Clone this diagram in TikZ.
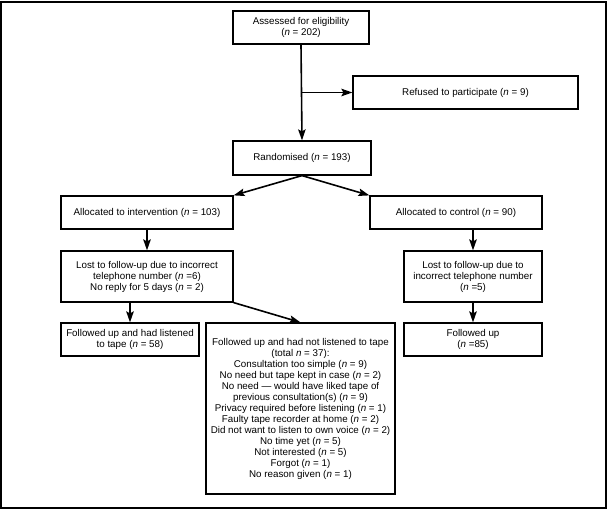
\documentclass[tikz,border=0pt]{standalone}
\usepackage{fontspec}
\setmainfont{Liberation Sans}
\usetikzlibrary{arrows.meta}

\begin{document}
\begin{tikzpicture}[x=1pt,y=-1pt]
\tikzstyle{every node}+=[inner sep=0pt, font=\fontsize{9.8}{11}\selectfont]
\tikzstyle{flowbox}=[draw=black, line width=1.2pt, align=center]
\tikzstyle{arr}=[-{Stealth[length=11pt,width=7.5pt,inset=2pt]}, line width=1.6pt]
\useasboundingbox (0,0) rectangle (608,510);
\draw [black, line width=2pt] (1,2) rectangle (606,508);
\node [flowbox, minimum width=136pt, minimum height=33pt] (assess) at (301,27.5) {Assessed for eligibility\\(\textit{n} = 202)};
\node [flowbox, minimum width=225pt, minimum height=33pt] (refused) at (465.5,92.5) {Refused to participate (\textit{n} = 9)};
\node [flowbox, minimum width=138pt, minimum height=34pt] (random) at (302,158) {Randomised (\textit{n} = 193)};
\node [flowbox, minimum width=172pt, minimum height=33pt] (alloci) at (147,212.5) {Allocated to intervention (\textit{n} = 103)};
\node [flowbox, minimum width=172pt, minimum height=33pt] (allocc) at (456,212.5) {Allocated to control (\textit{n} = 90)};
\node [flowbox, minimum width=172pt, minimum height=51pt] (losti) at (147,276.5) {Lost to follow-up due to incorrect\\telephone number (\textit{n} =6)\\No reply for 5 days (\textit{n} = 2)};
\node [flowbox, minimum width=138pt, minimum height=51pt] (lostc) at (473,276.5) {Lost to follow-up due to\\incorrect telephone number\\(\textit{n} =5)};
\node [flowbox, minimum width=138pt, minimum height=33pt] (listened) at (130,339.5) {Followed up and had listened\\to tape (\textit{n} = 58)};
\node [flowbox, minimum width=189pt, minimum height=171pt] (notlist) at (300.5,408.5) {Followed up and had not listened to tape\\(total \textit{n} = 37):\\Consultation too simple (\textit{n} = 9)\\No need but tape kept in case (\textit{n} = 2)\\No need --- would have liked tape of\\previous consultation(s) (\textit{n} = 9)\\Privacy required before listening (\textit{n} = 1)\\Faulty tape recorder at home (\textit{n} = 2)\\Did not want to listen to own voice (\textit{n} = 2)\\No time yet (\textit{n} = 5)\\Not interested (\textit{n} = 5)\\Forgot (\textit{n} = 1)\\No reason given (\textit{n} = 1)};
\node [flowbox, minimum width=138pt, minimum height=33pt] (follc) at (473,339.5) {Followed up\\(\textit{n} =85)};
\coordinate (split) at (assess.south |- refused.west);
\draw [arr] (assess.south) -- (random.north);
\draw [arr] (split) -- (refused.west);
\draw [arr] (random.south) -- (alloci.north east);
\draw [arr] (random.south) -- (allocc.north west);
\draw [arr] (alloci.south) -- (losti.north);
\draw [arr] (lostc.north |- allocc.south) -- (lostc.north);
\draw [arr] (listened.north |- losti.south) -- (listened.north);
\draw [arr] (losti.south east) -- (notlist.north);
\draw [arr] (lostc.south) -- (follc.north);
\end{tikzpicture}
\end{document}
